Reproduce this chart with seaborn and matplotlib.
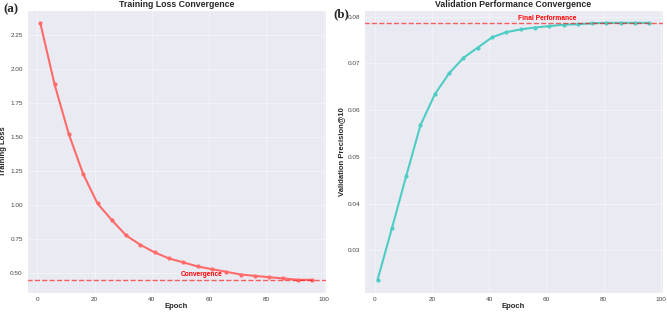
import matplotlib
matplotlib.use("Agg")
import matplotlib.pyplot as plt
import numpy as np
import pandas as pd
import seaborn as sns

# data
epochs = [1, 6, 11, 16, 21, 26, 31, 36, 41, 46, 51, 56, 61, 66, 71, 76, 81, 86, 91, 96]
train_loss = [2.34, 1.887, 1.52, 1.228, 1.012, 0.89, 0.777, 0.708, 0.652, 0.608,
              0.579, 0.549, 0.529, 0.51, 0.49, 0.48, 0.47, 0.461, 0.451, 0.451]
val_prec = [0.0237, 0.0347, 0.0459, 0.0568, 0.0634, 0.0679, 0.0712, 0.0734, 0.0756, 0.0767,
            0.0773, 0.0777, 0.0780, 0.0783, 0.0784, 0.0786, 0.0787, 0.0787, 0.0787, 0.0787]

df = pd.DataFrame({"epoch": epochs, "loss": train_loss, "prec": val_prec})

sns.set_style("darkgrid")
plt.rcParams["font.family"] = ["Liberation Sans", "DejaVu Sans"]

fig, (ax1, ax2) = plt.subplots(1, 2, figsize=(6.67, 3.12), dpi=100)
fig.subplots_adjust(left=0.040, right=0.994, top=0.968, bottom=0.062, wspace=0.128)

# training loss
sns.lineplot(data=df, x="epoch", y="loss", ax=ax1, color="#FF6B6B", marker="o",
             markersize=3, linewidth=1.5, markeredgewidth=0)
ax1.axhline(min(train_loss), color="red", linestyle="--", linewidth=1, alpha=0.6)
ax1.text(50, min(train_loss) + 0.012, "Convergence", color="red", fontsize=4.8,
         fontweight="bold", ha="left", va="bottom")
ax1.set_title("Training Loss Convergence", fontsize=6.3, fontweight="bold", pad=2)
ax1.set_xlabel("Epoch", fontsize=5.5, fontweight="bold", labelpad=1)
ax1.set_ylabel("Training Loss", fontsize=5.5, fontweight="bold", labelpad=2)

# validation precision
sns.lineplot(data=df, x="epoch", y="prec", ax=ax2, color="#4ECDC4", marker="o",
             markersize=3, linewidth=1.5, markeredgewidth=0)
ax2.axhline(max(val_prec), color="red", linestyle="--", linewidth=1, alpha=0.6)
ax2.text(50, max(val_prec) + 0.00015, "Final Performance", color="red", fontsize=4.8,
         fontweight="bold", ha="left", va="bottom")
ax2.set_title("Validation Performance Convergence", fontsize=6.3, fontweight="bold", pad=2)
ax2.set_xlabel("Epoch", fontsize=5.5, fontweight="bold", labelpad=1)
ax2.set_ylabel("Validation Precision@10", fontsize=5.5, fontweight="bold", labelpad=2)

for ax in (ax1, ax2):
    ax.tick_params(labelsize=4.6, pad=2.8, length=0, colors="#444444")
    ax.grid(True, alpha=0.35)
    ax.set_xticks([0, 20, 40, 60, 80, 100])

fig.text(3 / 667, 1 - 9 / 312, "(a)", fontsize=9.3, fontweight="bold",
         family="Liberation Serif", va="center", ha="left")
fig.text(333 / 667, 1 - 14 / 312, "(b)", fontsize=9.3, fontweight="bold",
         family="Liberation Serif", va="center", ha="left")

fig.savefig("out.png", dpi=100)
